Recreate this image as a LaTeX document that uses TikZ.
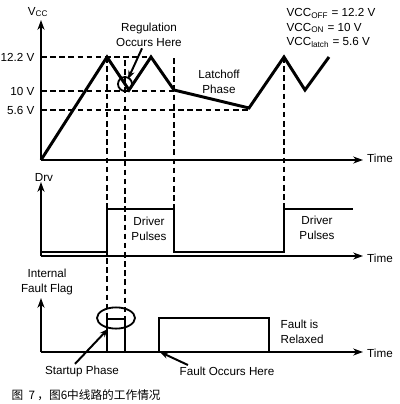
\documentclass[tikz,border=0pt]{standalone}
\usepackage{fontspec}
\setmainfont{Liberation Sans}
\newfontfamily\cjk{Noto Sans CJK SC}
\usetikzlibrary{arrows.meta,shapes,calc}

\begin{document}
\begin{tikzpicture}[x=0.025cm,y=-0.025cm,>={Stealth[length=7pt,width=5pt]},
font=\fontsize{8.3}{10.5}\selectfont,
eje/.style ={line width=1.8pt},
onda/.style ={line width=2.1pt, line join=miter},
guia/.style ={line width=0.9pt, dash pattern=on 4pt off 2.5pt},
texto/.style ={align=center, inner sep=1pt},
flecha/.style ={line width=1.4pt, -{Stealth[length=6pt,width=4.5pt]}}
]
\useasboundingbox (0,0) rectangle (400,404);

% ejes
\coordinate (O1) at (41,160);
\coordinate (O2) at (41,256);
\coordinate (O3) at (41,352);
\draw[eje,->] (O1)--(41,20);
\draw[eje,->] (O1)--(363,160);
\draw[eje,->] (O2)--(41,182);
\draw[eje,->] (O2)--(363,256);
\draw[eje,->] (O3)--(41,298);
\draw[eje,->] (O3)--(363,352);

% guias
\draw[guia] (41,57)--(151,57);
\draw[guia] (41,91)--(174,91);
\draw[guia] (41,110)--(249,110);
\draw[guia] (107,57)--(107,319);
\draw[guia] (125,60)--(125,319);
\draw[guia] (174,58)--(174,252);
\draw[guia] (284,57)--(284,209);

% ondas
\draw[onda] (O1)--(107,57)--(129,90)--(151,57)--(174,90)--(249,108)--(284,57)--(305,90)--(329,57);
\draw[onda] (41,252)--(107,252)--(107,209)--(174,209)--(174,252)--(284,252)--(284,209)--(353,209);
\draw[onda] (107,352)--(107,319)--(125,319)--(125,352);
\draw[onda] (159,352)--(159,318)--(269,318)--(269,352);

% textos
\draw (38,12) node[texto] (vcc) {V\textsubscript{CC}};
\draw (36,57) node[texto,anchor=east] (v122) {12.2 V};
\draw (36,91) node[texto,anchor=east] (v10) {10 V};
\draw (36,110) node[texto,anchor=east] (v56) {5.6 V};
\draw (380,158) node[texto] (t1) {Time};
\draw (44,177) node[texto] (drv) {Drv};
\draw (380,258) node[texto] (t2) {Time};
\draw (47,282) node[texto] (flag) {Internal\\Fault Flag};
\draw (380,353) node[texto] (t3) {Time};
\draw (149,35) node[texto] (reg) {Regulation\\Occurs Here};
\draw (219,82) node[texto] (latch) {Latchoff\\Phase};
\draw (285,28) node[texto,anchor=west,align=left] (eqs) {VCC\textsubscript{OFF} = 12.2 V\\VCC\textsubscript{ON} = 10 V\\VCC\textsubscript{latch} = 5.6 V};
\draw (149,229) node[texto] (pul1) {Driver\\Pulses};
\draw (317,228) node[texto] (pul2) {Driver\\Pulses};
\draw (279,332) node[texto,anchor=west,align=left] (relax) {Fault is\\Relaxed};
\draw (82,371) node[texto] (start) {Startup Phase};
\draw (227,371) node[texto] (fault) {Fault Occurs Here};
\draw (10,395) node[texto,anchor=west] (cap) {\cjk 图\hspace{0.45em}7\hspace{0.2em}，图6中线路的工作情况};

% marcas
\draw (125,84) node[circle,draw,line width=1.3pt,minimum size=0.35cm,inner sep=0pt] (regc) {};
\draw (116,318) node[ellipse,draw,line width=1.3pt,minimum width=0.95cm,minimum height=0.53cm,inner sep=0pt] (startc) {};
\coordinate (regtip) at (128,79);
\coordinate (starttip) at (108,329);
\coordinate (faulttip) at (160,352);
\draw[flecha] ($(reg.south)+(-7,0)$)--(regtip);
\draw[flecha] ($(start.north)+(-7,0)$)--(starttip);
\draw[flecha] ($(fault.north west)+(10,0)$)--(faulttip);

\end{tikzpicture}
\end{document}
